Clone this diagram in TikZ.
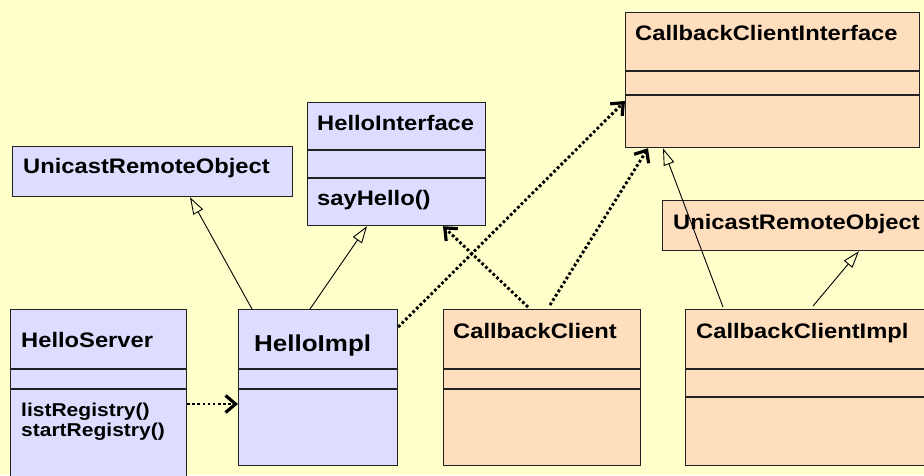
\documentclass[tikz,border=0pt]{standalone}
\usepackage{fontspec}
\setmainfont{Liberation Sans}[FakeStretch=1.13]
\usetikzlibrary{arrows.meta}

\definecolor{bgyellow}{HTML}{FFFFCC}
\definecolor{clsblue}{HTML}{DDDDFF}
\definecolor{clspeach}{HTML}{FFDEBE}
\definecolor{edge}{HTML}{222222}

\tikzset{
  classbox/.style={draw=edge, line width=1.2pt, rectangle, inner sep=0pt, anchor=north west},
  blueclass/.style={classbox, fill=clsblue},
  peachclass/.style={classbox, fill=clspeach},
  divider/.style={draw=edge, line width=1.2pt},
  title/.style={anchor=base west, inner sep=0pt, font=\fontsize{21}{25}\selectfont\bfseries},
  bigtitle/.style={anchor=base west, inner sep=0pt, font=\fontsize{23}{27}\selectfont\bfseries},
  member/.style={anchor=base west, inner sep=0pt, font=\fontsize{21}{25}\selectfont\bfseries},
  smallmember/.style={anchor=base west, inner sep=0pt, font=\fontsize{18.6}{20}\selectfont\bfseries},
  inherits/.style={draw=black, line width=0.9pt, -{Triangle[open, length=17pt, width=11pt, line width=0.9pt]}},
  uses/.style={draw=black, line width=2.9pt, dash pattern=on 2.7pt off 2.4pt,
    -{Straight Barb[length=10pt, width=17pt, line width=3.2pt]}},
}

\begin{document}
\begin{tikzpicture}[x=1pt, y=-1pt]
  \useasboundingbox (0,0) rectangle (924,475);
  \clip (0,0) rectangle (924,475);
  \fill[bgyellow] (0,0) rectangle (924,475);

  % class boxes
  \node[blueclass, minimum width=280pt, minimum height=50pt] (uroL) at (12,146) {};
  \node[blueclass, minimum width=178pt, minimum height=123pt] (hint) at (307,102) {};
  \node[peachclass, minimum width=294pt, minimum height=135pt] (cci) at (625,12) {};
  \node[peachclass, minimum width=270pt, minimum height=50pt] (uroR) at (662,200) {};
  \node[blueclass, minimum width=176pt, minimum height=185pt] (hs) at (10,309) {};
  \node[blueclass, minimum width=159pt, minimum height=156pt] (impl) at (238,309) {};
  \node[peachclass, minimum width=197pt, minimum height=156pt] (cc) at (443,309) {};
  \node[peachclass, minimum width=250pt, minimum height=156pt] (ccImpl) at (685,309) {};

  % compartment dividers
  \foreach \cls/\off in {hint/48, hint/76, cci/59, cci/83, hs/60, hs/80,
                         impl/60, impl/80, cc/60, cc/80, ccImpl/60, ccImpl/88}{
    \draw[divider] ([yshift=-\off pt]\cls.north west) -- ([yshift=-\off pt]\cls.north east);
  }

  % class names and members
  \node[title] (uroL-t) at (23,173) {UnicastRemoteObject};
  \node[title] (hint-t) at (317,130) {HelloInterface};
  \node[member] (hint-m) at (317,205.5) {sayHello()};
  \node[title] (cci-t) at (635,40) {CallbackClientInterface};
  \node[title] (uroR-t) at (673,229) {UnicastRemoteObject};
  \node[title] (hs-t) at (21,347) {HelloServer};
  \node[smallmember] (hs-m1) at (21,416) {listRegistry()};
  \node[smallmember] (hs-m2) at (21,436) {startRegistry()};
  \node[bigtitle] (impl-t) at (254,351.5) {HelloImpl};
  \node[title] (cc-t) at (453,338) {CallbackClient};
  \node[title] (ccImpl-t) at (696,338) {CallbackClientImpl};

  % generalizations
  \draw[inherits] ([xshift=14pt]impl.north west) -- ([xshift=178pt]uroL.south west);
  \draw[inherits] ([xshift=72pt]impl.north west) -- ([xshift=60pt]hint.south west);
  \draw[inherits] ([xshift=38pt,yshift=2pt]ccImpl.north west) -- ([xshift=38pt]cci.south west);
  \draw[inherits] ([xshift=128pt,yshift=3pt]ccImpl.north west) -- ([xshift=197pt]uroR.south west);

  % dependencies
  \draw[uses] ([yshift=-18pt]impl.north east) -- ([yshift=-89pt]cci.north west);
  \draw[uses] ([xshift=85pt,yshift=2pt]cc.north west) -- ([xshift=136pt]hint.south west);
  \draw[uses] ([xshift=107pt,yshift=4pt]cc.north west) -- ([xshift=23pt]cci.south west);
  \draw[uses] ([yshift=-95pt]hs.north east) -- ([yshift=-95pt]impl.north west);
\end{tikzpicture}
\end{document}
